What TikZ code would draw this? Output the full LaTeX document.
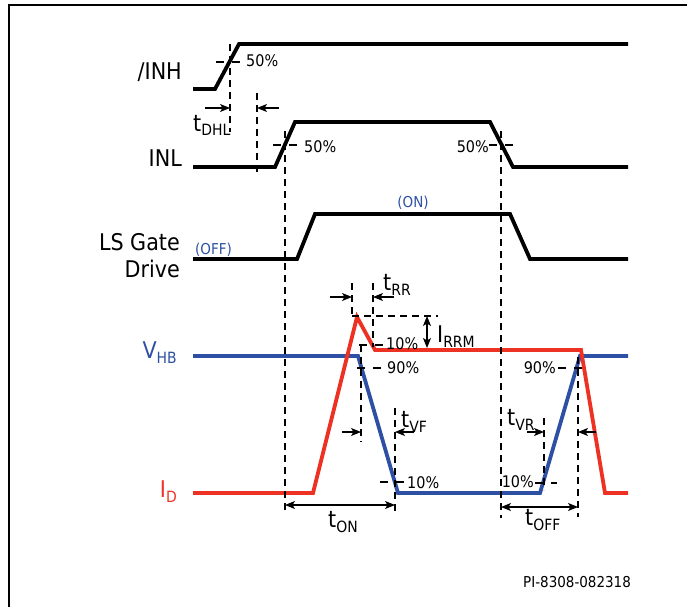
\documentclass[tikz,border=0pt]{standalone}
\usepackage{fontspec}
\setmainfont{DejaVu Sans Condensed}
\usetikzlibrary{positioning,calc,arrows.meta}
\definecolor{vblue}{RGB}{46,80,164}
\definecolor{ired}{RGB}{237,50,36}
\newcommand{\lsub}[1]{\raisebox{-5pt}{\fontsize{15.5}{15.5}\selectfont #1}}
\tikzset{
  wave/.style={line width=3.8pt},
  guide/.style={dash pattern=on 7pt off 5pt, line width=1.1pt},
  tick/.style={dash pattern=on 8pt off 8pt, line width=1.1pt},
  dimarrow/.style={-{Stealth[length=10pt,width=8pt,inset=2.5pt]}, line width=1.1pt},
  biarrow/.style={{Stealth[length=10pt,width=8pt,inset=2.5pt]}-{Stealth[length=10pt,width=8pt,inset=2.5pt]}, line width=1.1pt},
  lbl/.style={font=\fontsize{23}{27}\selectfont, inner sep=0pt, anchor=base east},
  tlbl/.style={font=\fontsize{23}{27}\selectfont, inner sep=0pt, anchor=base west},
  pct/.style={font=\fontsize{16}{16}\selectfont, inner sep=0pt, anchor=base west},
  state/.style={font=\fontsize{15}{15}\selectfont, text=vblue, inner sep=0pt},
}
\begin{document}
\begin{tikzpicture}[x=1pt,y=-1pt]
\useasboundingbox (0,0) rectangle (687,607);
\draw[line width=2pt] (9,607) -- (9,5) -- (687,5);

% signal names
\node[lbl] (inhname) at (182,80) {/INH};
\node[lbl] (inlname) at (182,166) {INL};
\node[lbl, align=right] (lsname) at (180,277) {LS Gate\\Drive};
\node[lbl, text=vblue] (vhbname) at (177,358) {V\lsub{HB}};
\node[lbl, text=ired] (idname) at (177,497) {I\lsub{D}};

% waveforms
\draw[wave] (193,89) coordinate (inh0) -- (215,89) -- (239,44) -- (628,44) coordinate (inh1);
\draw[wave] (193,167) coordinate (inl0) -- (275,167) -- (295,122) -- (490,122) -- (513,167) -- (628,167) coordinate (inl1);
\draw[wave] (193,259) coordinate (ls0) -- (297,259) -- (315,214) -- (510,214) -- (530,259) -- (628,259) coordinate (ls1);
\draw[wave, vblue] (193,356) coordinate (vhb0) -- (358,356) -- (398,493) -- (540,493) -- (580,356) -- (628,356) coordinate (vhb1);
\draw[wave, ired] (193,493) coordinate (id0) -- (313,493) -- (357,317) coordinate (peak) -- (375,350) -- (581,350) -- (605,493) -- (628,493) coordinate (id1);

\node[state, anchor=base] (on) at (413,207) {(ON)};
\node[state, anchor=base west] (off) at (195,254) {(OFF)};

% guide lines
\draw[guide] (230,44) coordinate (dhlA) -- (230,132);
\draw[guide] (257,93) coordinate (dhlB) -- (257,172);
\draw[guide] (285,131) coordinate (onA) -- (285,513);
\draw[guide] (501,131) coordinate (offA) -- (501,518);
\draw[guide] (352,283) coordinate (rrA) -- (352,317);
\draw[guide] (373,283) coordinate (rrB) -- (373,347);
\draw[guide] (352,316) coordinate (rrmA) -- (438,316);
\draw[guide] (361,345) coordinate (vfA) -- (361,442);
\draw[guide] (395,408) coordinate (vfB) -- (395,513);
\draw[guide] (544,418) coordinate (vrA) -- (544,490);
\draw[guide] (578,357) coordinate (vrB) -- (578,517);

% level ticks
\draw[tick] (216,62) -- (241,62);
\node[pct] (p1) at (246,67) {50\%};
\draw[tick] (273,145) -- (297,145);
\node[pct] (p2) at (304,152) {50\%};
\draw[tick] (489,145) -- (513,145);
\node[pct, anchor=base east] (p3) at (489,152) {50\%};
\draw[tick] (359,345) -- (383,345);
\node[pct] (p4) at (386,349) {10\%};
\draw[tick] (357,368) -- (382,368);
\node[pct] (p5) at (387,373) {90\%};
\draw[tick] (380,482) -- (405,482);
\node[pct] (p6) at (407,488) {10\%};
\draw[tick] (558,368) -- (584,368);
\node[pct, anchor=base east] (p7) at (556,373) {90\%};
\draw[tick] (535,483) -- (557,483);
\node[pct, anchor=base east] (p8) at (534,487) {10\%};

% timing arrows
\coordinate (dhlL) at (205,108); \coordinate (dhlR) at (279,108);
\draw[dimarrow] (dhlL) -- (dhlA |- dhlL);
\draw[dimarrow] (dhlR) -- (dhlB |- dhlR);
\node[tlbl] (tdhl) at (193,131) {t\lsub{DHL}};

\coordinate (rrL) at (330,297); \coordinate (rrR) at (394,297);
\draw[dimarrow] (rrL) -- (rrA |- rrL);
\draw[dimarrow] (rrR) -- (rrB |- rrR);
\node[tlbl] (trr) at (383,290) {t\lsub{RR}};

\coordinate (irrmT) at (427,316); \coordinate (irrmB) at (427,348);
\draw[biarrow] (irrmT) -- (irrmB);
\node[tlbl] (irrm) at (437,342) {I\lsub{RRM}};

\coordinate (vfL) at (342,432); \coordinate (vfR) at (414,432);
\draw[dimarrow] (vfL) -- (vfA |- vfL);
\draw[dimarrow] (vfR) -- (vfB |- vfR);
\node[tlbl] (tvf) at (401,427) {t\lsub{VF}};

\coordinate (vrL) at (527,432); \coordinate (vrR) at (596,432);
\draw[dimarrow] (vrL) -- (vrA |- vrL);
\draw[dimarrow] (vrR) -- (vrB |- vrR);
\node[tlbl] (tvr) at (507,425) {t\lsub{VR}};

\coordinate (onL) at (285,505); \coordinate (onR) at (395,505);
\draw[biarrow] (onL) -- (onR);
\node[tlbl] (ton) at (328,527) {t\lsub{ON}};

\coordinate (offL) at (501,507); \coordinate (offR) at (578,507);
\draw[biarrow] (offL) -- (offR);
\node[tlbl] (toff) at (525,525) {t\lsub{OFF}};

\node[pct, font=\fontsize{15}{15}\selectfont] (code) at (523,587) {PI-8308-082318};
\end{tikzpicture}
\end{document}
